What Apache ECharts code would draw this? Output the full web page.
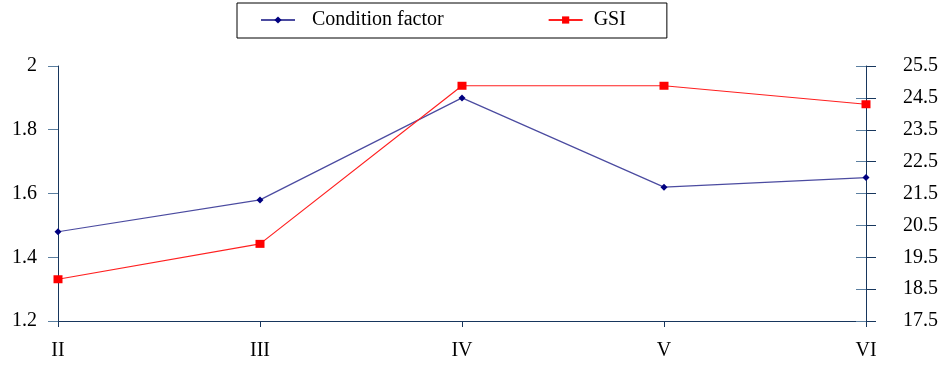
<!DOCTYPE html>
<html><head><meta charset="utf-8">
<script src="https://cdn.jsdelivr.net/npm/echarts@6/dist/echarts.min.js"></script>
<style>html,body{margin:0;padding:0;background:#fff}#c{width:943px;height:368px}</style>
</head><body><div id="c"></div>
<script>
const categories = ['II', 'III', 'IV', 'V', 'VI'];
const conditionFactor = [1.48, 1.58, 1.90, 1.62, 1.65];
const gsi = [18.81, 19.92, 24.88, 24.88, 24.30];
const leftTicks = { min: 1.2, max: 2, interval: 0.2 };
const rightTicks = { min: 17.5, max: 25.5, interval: 1 };

const font = 'Liberation Serif';
const fs = 20;
const axisCol = '#17365d';
const chart = echarts.init(document.getElementById('c'), null, { renderer: 'canvas' });
chart.setOption({
  animation: false,
  backgroundColor: '#fff',
  textStyle: { fontFamily: font },
  legend: {
    left: 237, top: 3,
    padding: [7, 41, 8, 23],
    borderColor: '#000', borderWidth: 1, borderRadius: 0,
    itemWidth: 34, itemHeight: 9, itemGap: 104,
    textStyle: { fontFamily: font, fontSize: fs, color: '#000', padding: [0, 0, 0, 12] },
    data: [
      { name: 'Condition factor' },
      { name: 'GSI', textStyle: { padding: [0, 0, 0, 6] } }
    ]
  },
  grid: { left: 58, right: 77, top: 66, bottom: 47, containLabel: false },
  xAxis: {
    type: 'category', data: categories, boundaryGap: false,
    axisLine: { lineStyle: { color: axisCol, width: 1 } },
    axisTick: { length: 6, alignWithLabel: true, lineStyle: { color: axisCol } },
    axisLabel: { fontFamily: font, fontSize: fs, color: '#000', margin: 20 },
    splitLine: { show: false }
  },
  yAxis: [
    {
      type: 'value', position: 'left', min: leftTicks.min, max: leftTicks.max, interval: leftTicks.interval,
      axisLine: { show: true, lineStyle: { color: axisCol } },
      axisTick: { show: true, length: 10, lineStyle: { color: '#5b7fa0' } },
      axisLabel: { fontFamily: font, fontSize: fs, color: '#000', margin: 21,
        formatter: v => String(Math.round(v * 10) / 10) },
      splitLine: { show: false }
    },
    {
      type: 'value', position: 'right', min: rightTicks.min, max: rightTicks.max, interval: rightTicks.interval,
      axisLine: { show: true, lineStyle: { color: axisCol } },
      axisTick: { show: true, length: 10, lineStyle: { color: axisCol } },
      axisLabel: { fontFamily: font, fontSize: fs, color: '#000', margin: 37,
        formatter: v => v.toFixed(1) },
      splitLine: { show: false }
    },
    {
      type: 'value', position: 'right', min: rightTicks.min, max: rightTicks.max, interval: rightTicks.interval,
      axisLine: { show: false },
      axisTick: { show: true, inside: true, length: 10, lineStyle: { color: '#5b7fa0' } },
      axisLabel: { show: false },
      splitLine: { show: false }
    }
  ],
  series: [
    {
      name: 'Condition factor', type: 'line', yAxisIndex: 0, data: conditionFactor,
      symbol: 'diamond', symbolSize: 7,
      lineStyle: { color: '#4b4ba0', width: 1.2 },
      itemStyle: { color: '#000080' }
    },
    {
      name: 'GSI', type: 'line', yAxisIndex: 1, data: gsi,
      symbol: 'rect', symbolSize: [9, 8],
      lineStyle: { color: '#ff2020', width: 1.2 },
      itemStyle: { color: '#ff0000' }
    }
  ]
});
</script></body></html>
